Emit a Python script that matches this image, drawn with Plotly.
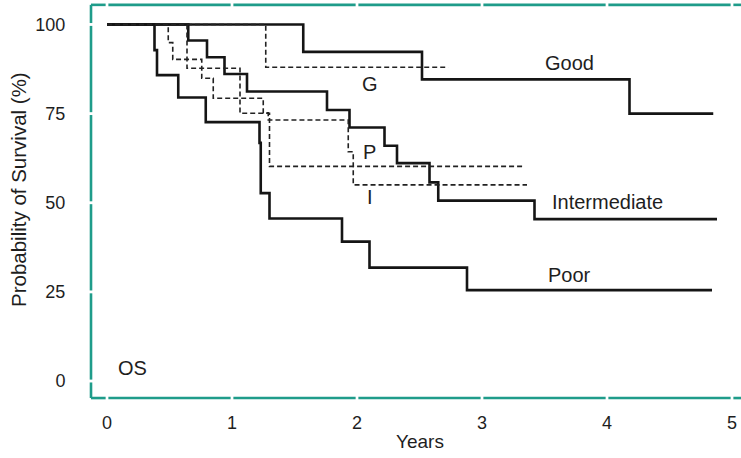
import plotly.graph_objects as go

# ---------------- data ----------------
good_t = [0.0, 1.57, 2.52, 4.18, 4.85]
good_s = [100, 92.3, 84.6, 75.0, 75.0]

inter_t = [0.0, 0.65, 0.80, 0.94, 1.12, 1.76, 1.94, 2.22, 2.32, 2.58, 2.65, 3.42, 4.88]
inter_s = [100, 95.5, 90.8, 86.1, 81.2, 76.0, 71.1, 66.0, 61.1, 55.7, 50.6, 45.4, 45.4]

poor_t = [0.0, 0.38, 0.40, 0.57, 0.79, 1.22, 1.23, 1.30, 1.88, 2.10, 2.88, 4.84]
poor_s = [100, 92.8, 85.8, 79.5, 72.6, 66.8, 52.7, 45.6, 39.1, 31.8, 25.5, 25.5]

g_dash_t = [0.0, 1.27, 2.73]
g_dash_s = [100, 88.0, 88.0]

i_dash_t = [0.0, 0.49, 0.526, 0.758, 0.85, 1.25, 1.29, 1.93, 1.97, 3.36]
i_dash_s = [100, 94.9, 90.2, 84.9, 79.3, 75.2, 73.2, 64.3, 55.0, 55.0]

p_dash_t = [0.0, 0.64, 1.064, 1.30, 3.34]
p_dash_s = [100, 87.7, 75.1, 60.2, 60.2]

x_ticks = [0, 1, 2, 3, 4, 5]
y_ticks = [0, 25, 50, 75, 100]

curve_labels = ["Good", "Intermediate", "Poor", "G", "P", "I", "OS"]
label_x = [3.70, 4.00, 3.70, 2.10, 2.10, 2.10, 0.20]
label_y = [89.3, 50.2, 29.7, 83.3, 64.3, 51.7, 3.6]

# ---------------- styling ----------------
FONT = "Liberation Sans, Arial, sans-serif"
TXT = "#1e1e1e"
TEAL = "#1f9c8a"
X_RANGE = [-0.16, 5.072]
Y_RANGE = [-5.6, 106.3]
FRAME_L, FRAME_B, FRAME_T = -0.128, -4.77, 105.5
FRAME_R = 5.2

fig = go.Figure()

for t, s in [(good_t, good_s), (inter_t, inter_s), (poor_t, poor_s)]:
    fig.add_trace(go.Scatter(x=t, y=s, mode="lines", line_shape="hv",
                             line=dict(color="#151515", width=2.6),
                             showlegend=False, hoverinfo="skip"))
for t, s in [(g_dash_t, g_dash_s), (i_dash_t, i_dash_s), (p_dash_t, p_dash_s)]:
    fig.add_trace(go.Scatter(x=t, y=s, mode="lines", line_shape="hv",
                             line=dict(color="#222222", width=1.6, dash="5px,3px"),
                             showlegend=False, hoverinfo="skip"))

# frame with small gaps at the tick positions
gx = 0.011
gy = 0.4
shapes = []
def seg(x0, y0, x1, y1):
    shapes.append(dict(type="line", xref="x", yref="y", x0=x0, y0=y0, x1=x1, y1=y1,
                       line=dict(color=TEAL, width=2.6), layer="below"))

for yb in (FRAME_B, FRAME_T):
    prev = FRAME_L
    for xt in x_ticks:
        seg(prev, yb, xt - gx, yb)
        prev = xt + gx
    seg(prev, yb, FRAME_R, yb)
prev = FRAME_B
for yt in y_ticks:
    seg(FRAME_L, prev, FRAME_L, yt - gy)
    prev = yt + gy
seg(FRAME_L, prev, FRAME_L, FRAME_T)

annotations = []
for txt, ax, ay in zip(curve_labels, label_x, label_y):
    annotations.append(dict(x=ax, y=ay, xref="x", yref="y", text=txt, showarrow=False,
                            font=dict(family=FONT, size=20, color=TXT),
                            xanchor="center", yanchor="middle"))
annotations.append(dict(x=(420 - 87) / 654, y=(401 - 441) / 399, xref="paper", yref="paper",
                        text="Years", showarrow=False, xanchor="center", yanchor="middle",
                        font=dict(family=FONT, size=19, color=TXT)))
annotations.append(dict(x=(18 - 87) / 654, y=(401 - 190) / 399, xref="paper", yref="paper",
                        text="Probability of Survival (%)", showarrow=False, textangle=-90,
                        xanchor="center", yanchor="middle",
                        font=dict(family=FONT, size=20.5, color=TXT)))

fig.update_layout(
    width=741, height=458,
    margin=dict(l=87, r=0, t=2, b=57),
    paper_bgcolor="white", plot_bgcolor="white",
    shapes=shapes, annotations=annotations,
    xaxis=dict(range=X_RANGE, tickvals=x_ticks, ticktext=[str(v) for v in x_ticks],
               showgrid=False, zeroline=False, showline=False,
               ticks="outside", ticklen=5, tickcolor="rgba(0,0,0,0)",
               tickfont=dict(family=FONT, size=18, color=TXT)),
    yaxis=dict(range=Y_RANGE, tickvals=y_ticks, ticktext=[str(v) for v in y_ticks],
               showgrid=False, zeroline=False, showline=False,
               ticks="outside", ticklen=17, tickcolor="rgba(0,0,0,0)",
               tickfont=dict(family=FONT, size=18, color=TXT)),
)

fig.write_html("out.html")
